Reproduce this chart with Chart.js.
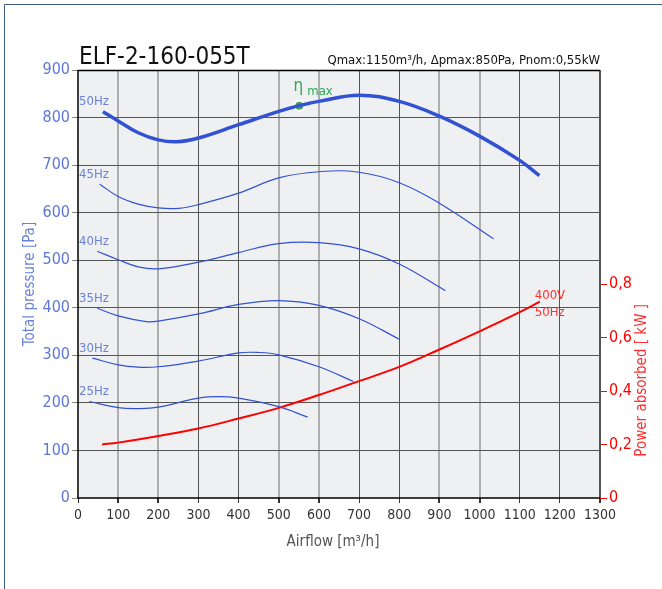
<!DOCTYPE html>
<html>
  <head>
    <meta charset="utf-8">
    <script src="https://cdn.jsdelivr.net/npm/chart.js@4/dist/chart.umd.min.js"></script>
    <style>
      body { margin: 0; background: #fff; }
    </style>
  </head>
  <body>
    <canvas id="fan" width="662" height="589"></canvas>
    <script>
      // curves: [airflow m3/h, pressure Pa]
      var hz50 = [[62,812],[100,793],[150,768],[200,753],[246,749],[300,757],[400,785],[500,813],[551,825],[600,834],[700,847],[800,834],[900,803],[1000,761],[1100,710],[1149,678]];
      var hz45 = [[54,660],[100,634],[150,618],[200,610],[250,609],[300,617],[400,641],[500,673],[600,686],[700,685],[800,663],[900,620],[1035,545]];
      var hz40 = [[48,519],[100,501],[150,486],[200,482],[300,496],[400,516],[500,535],[600,537],[700,524],[800,492],[915,436]];
      var hz35 = [[48,399],[100,383],[170,371],[200,372],[300,387],[400,407],[500,415],[600,405],[700,377],[800,334]];
      var hz30 = [[36,294],[100,280],[150,275],[200,276],[300,288],[400,305],[450,306],[500,301],[600,276],[686,245]];
      var hz25 = [[28,203],[100,190],[150,188],[200,191],[300,210],[350,213],[400,210],[500,192],[572,170]];
      // absorbed power [kW] at 400V / 50Hz
      var power = [[60,0.200],[100,0.207],[200,0.232],[300,0.260],[400,0.297],[500,0.337],[600,0.385],[700,0.437],[800,0.490],[900,0.555],[1000,0.623],[1100,0.695],[1150,0.734]];
      var etaMax = [[551,825]];

      var curveNames = ['50Hz', '45Hz', '40Hz', '35Hz', '30Hz', '25Hz'];
      var curves = [hz50, hz45, hz40, hz35, hz30, hz25];

      var xTicks = [0, 1300, 100];
      var yTicks = [0, 900, 100];
      var y2Ticks = [0, 1.6, 0.2];
      var y2Shown = 0.8;

      var title = 'ELF-2-160-055T';
      var subtitle = 'Qmax:1150m\u00b3/h, \u0394pmax:850Pa, Pnom:0,55kW';

      var NARROW = "'DejaVu Sans Condensed', Roboto, sans-serif";
      var BLUE = '#3152d2';
      var LBLUE = '#6a82da';
      var RED = '#ff0000';

      function pts(a) {
        return a.map(function(p) { return {x: p[0], y: p[1]}; });
      }

      var datasets = [];
      for (var i = 0; i < curves.length; i++) {
        datasets.push({
          label: curveNames[i],
          data: pts(curves[i]),
          yAxisID: 'y',
          borderColor: BLUE,
          borderWidth: i == 0 ? 3.5 : 1.2,
          pointRadius: 0,
          tension: 0.4,
          fill: false
        });
      }
      datasets.push({
        label: 'power',
        data: pts(power),
        yAxisID: 'y2',
        borderColor: RED,
        borderWidth: 2,
        pointRadius: 0,
        tension: 0.4,
        fill: false
      });
      datasets.push({
        label: 'eta',
        data: pts(etaMax),
        yAxisID: 'y',
        showLine: false,
        pointRadius: 5,
        pointBackgroundColor: '#46a84c',
        pointBorderColor: '#ffffff',
        pointBorderWidth: 2
      });

      var decor = {
        id: 'decor',
        beforeDraw: function(chart) {
          var c = chart.ctx, a = chart.chartArea;
          c.save();
          c.fillStyle = '#ffffff';
          c.fillRect(0, 0, chart.width, chart.height);
          c.fillStyle = '#eff0f2';
          c.fillRect(a.left, a.top, a.right - a.left, a.bottom - a.top);
          // page frame
          c.strokeStyle = '#3f5f86';
          c.lineWidth = 1;
          c.beginPath();
          c.moveTo(4.5, chart.height);
          c.lineTo(4.5, 4.5);
          c.lineTo(chart.width, 4.5);
          c.stroke();
          c.restore();
        },
        beforeDatasetsDraw: function(chart) {
          var c = chart.ctx, a = chart.chartArea;
          c.save();
          c.strokeStyle = '#555';
          c.lineWidth = 2;
          c.beginPath();
          c.moveTo(a.right, a.top);
          c.lineTo(a.right, a.bottom);
          c.stroke();
          c.strokeStyle = '#000';
          c.lineWidth = 1.5;
          c.beginPath();
          c.moveTo(a.right, a.top + 0.5);
          c.lineTo(a.left, a.top + 0.5);
          c.lineTo(a.left, a.bottom);
          c.lineTo(a.right, a.bottom);
          c.stroke();
          c.restore();
        },
        afterDraw: function(chart) {
          var c = chart.ctx, a = chart.chartArea;
          var xs = chart.scales.x, ys = chart.scales.y, y2 = chart.scales.y2;
          c.save();
          c.textBaseline = 'middle';

          c.fillStyle = '#111';
          c.textAlign = 'left';
          c.font = '24px ' + NARROW;
          c.fillText(title, a.left + 1, 58);
          c.font = '13px ' + NARROW;
          c.textAlign = 'right';
          c.fillText(subtitle, a.right, 61);

          // curve names
          c.font = '13px ' + NARROW;
          c.fillStyle = LBLUE;
          c.textAlign = 'left';
          for (var i = 0; i < curves.length; i++) {
            var py = ys.getPixelForValue(curves[i][0][1]);
            c.fillText(curveNames[i], a.left + 1, py - 10);
          }

          // eta max
          var ex = xs.getPixelForValue(etaMax[0][0]), ey = ys.getPixelForValue(etaMax[0][1]);
          c.fillStyle = '#2eaa55';
          c.textAlign = 'center';
          c.font = '17px ' + NARROW;
          c.fillText('\u03b7', ex - 1, ey - 19);
          c.textAlign = 'left';
          c.font = '13px ' + NARROW;
          c.fillText('max', ex + 8, ey - 14);

          // power label
          var last = power[power.length - 1];
          var px = xs.getPixelForValue(last[0]), pp = y2.getPixelForValue(last[1]);
          c.fillStyle = '#ff3030';
          c.font = '13px ' + NARROW;
          c.fillText('400V', px - 5, pp - 6);
          c.fillText('50Hz', px - 5, pp + 11);

          // axis titles
          c.font = '15px ' + NARROW;
          c.fillStyle = '#555';
          c.textAlign = 'center';
          c.fillText('Airflow [m\u00b3/h]', (a.left + a.right) / 2 - 6, 542);

          c.save();
          c.translate(30, (a.top + a.bottom) / 2);
          c.rotate(-Math.PI / 2);
          c.fillStyle = LBLUE;
          c.fillText('Total pressure [Pa]', 0, 0);
          c.restore();

          c.save();
          c.translate(642, y2.getPixelForValue(0.44));
          c.rotate(-Math.PI / 2);
          c.fillStyle = '#ff3030';
          c.fillText('Power absorbed [ kW ]', 0, 0);
          c.restore();

          c.restore();
        }
      };

      function vGridIsLight(v) {
        var i = Math.round(v / 100);
        return Math.floor((i - 1) / 2) % 2 == 0;
      }

      new Chart(document.getElementById('fan'), {
        type: 'line',
        data: { datasets: datasets },
        options: {
          responsive: false,
          animation: false,
          devicePixelRatio: 1,
          layout: { padding: { top: 70, left: 0, right: 0, bottom: 0 } },
          plugins: { legend: { display: false }, tooltip: { enabled: false } },
          scales: {
            x: {
              type: 'linear',
              min: xTicks[0], max: xTicks[1],
              ticks: {
                stepSize: xTicks[2], color: '#333', font: { family: NARROW, size: 14 }, padding: 4,
                maxRotation: 0, autoSkip: false,
                callback: function(v) { return String(v); }
              },
              grid: {
                color: function(ctx) {
                  var v = ctx.tick.value;
                  if (v == 0 || v == xTicks[1]) return 'rgba(0,0,0,0)';
                  return vGridIsLight(v) ? '#aeaeae' : '#555';
                },
                lineWidth: function(ctx) { return vGridIsLight(ctx.tick.value) ? 2 : 1; },
                tickColor: '#333',
                tickLength: 5
              },
              border: { display: false },
              afterFit: function(s) { s.height = 91; }
            },
            y: {
              position: 'left',
              min: yTicks[0], max: yTicks[1],
              ticks: { stepSize: yTicks[2], color: '#5d77d8', font: { family: NARROW, size: 16 }, padding: 2 },
              grid: {
                color: function(ctx) { return ctx.tick.value == 0 || ctx.tick.value == yTicks[1] ? 'rgba(0,0,0,0)' : '#555'; },
                tickColor: '#888',
                tickLength: 6
              },
              border: { display: false },
              afterFit: function(s) { s.width = 78; }
            },
            y2: {
              position: 'right',
              min: y2Ticks[0], max: y2Ticks[1],
              ticks: {
                stepSize: y2Ticks[2], color: RED, font: { family: NARROW, size: 16 }, padding: 2,
                callback: function(v) {
                  if (v > y2Shown + 1e-6) return '';
                  return v == 0 ? '0' : v.toFixed(1).replace('.', ',');
                }
              },
              grid: {
                drawOnChartArea: false,
                tickColor: function(ctx) { return ctx.tick.value > y2Shown + 1e-6 ? 'rgba(0,0,0,0)' : RED; },
                tickLength: 7
              },
              border: { display: false },
              afterFit: function(s) { s.width = 62; }
            }
          }
        },
        plugins: [decor]
      });
    </script>
  </body>
</html>
